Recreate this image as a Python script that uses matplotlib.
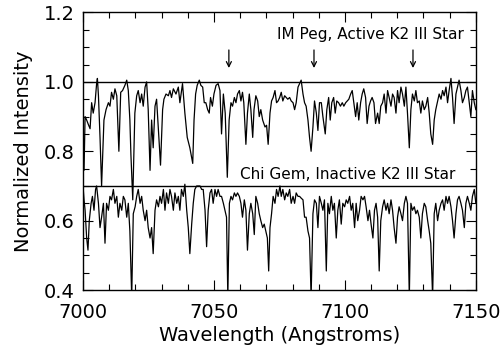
import matplotlib
matplotlib.use("Agg")
import matplotlib.pyplot as plt
from matplotlib.ticker import MultipleLocator

# IM Peg (active K2 III) spectrum: wavelength (Angstrom), normalized intensity
wl_impeg = [
    7000.0, 7000.4, 7000.8, 7001.4, 7001.9, 7002.7, 7003.3, 7003.9, 7004.6, 7005.2,
    7005.5, 7005.9, 7006.5, 7007.1, 7008.0, 7008.8, 7009.7, 7010.3, 7010.9, 7011.6,
    7012.2, 7012.9, 7013.7, 7014.4, 7015.1, 7016.0, 7016.7, 7017.3, 7017.9, 7018.3,
    7019.0, 7019.8, 7020.5, 7021.1, 7021.8, 7022.4, 7023.0, 7023.7, 7024.3, 7024.9,
    7025.6, 7026.2, 7026.8, 7027.5, 7028.1, 7028.8, 7029.6, 7030.4, 7030.9, 7031.7,
    7032.6, 7033.2, 7033.8, 7034.5, 7035.5, 7036.4, 7037.0, 7038.0, 7038.9, 7039.8,
    7040.8, 7041.9, 7042.4, 7043.0, 7043.6, 7044.4, 7045.0, 7045.7, 7046.3, 7046.9,
    7047.6, 7048.2, 7048.7, 7049.4, 7050.0, 7050.8, 7051.6, 7052.3, 7052.9, 7053.6,
    7054.3, 7055.1, 7055.8, 7056.5, 7057.1, 7057.8, 7058.4, 7059.0, 7059.7, 7060.3,
    7060.9, 7061.4, 7062.2, 7062.8, 7063.5, 7064.1, 7064.8, 7065.3, 7066.0, 7066.7,
    7067.3, 7067.9, 7068.6, 7069.5, 7070.1, 7070.7, 7071.4, 7072.0, 7072.6, 7073.3,
    7073.9, 7074.5, 7075.1, 7075.7, 7076.3, 7077.0, 7077.6, 7078.2, 7078.9, 7079.5,
    7080.2, 7080.8, 7081.4, 7082.1, 7082.7, 7083.3, 7084.0, 7084.6, 7085.2, 7085.9,
    7086.5, 7087.1, 7087.8, 7088.4, 7089.1, 7089.7, 7090.3, 7091.0, 7091.6, 7092.5,
    7093.1, 7093.8, 7094.4, 7095.0, 7095.7, 7096.3, 7096.9, 7097.6, 7098.3, 7099.0,
    7099.6, 7100.3, 7100.9, 7101.5, 7102.2, 7102.8, 7103.4, 7104.1, 7104.7, 7105.3,
    7106.0, 7106.6, 7107.2, 7107.9, 7108.5, 7109.2, 7109.8, 7110.4, 7111.1, 7111.7,
    7112.5, 7113.1, 7113.7, 7114.4, 7115.0, 7115.7, 7116.3, 7116.9, 7117.6, 7118.2,
    7118.8, 7119.5, 7120.1, 7120.7, 7121.4, 7122.0, 7122.7, 7123.3, 7123.9, 7124.6,
    7125.2, 7125.8, 7126.5, 7127.1, 7127.7, 7128.4, 7129.0, 7129.6, 7130.3, 7130.9,
    7131.6, 7132.2, 7132.8, 7133.5, 7134.1, 7134.7, 7135.4, 7136.0, 7136.7, 7137.3,
    7137.9, 7138.6, 7139.2, 7139.8, 7140.5, 7141.1, 7141.7, 7142.4, 7143.0, 7143.6,
    7144.3, 7144.9, 7145.6, 7146.2, 7146.8, 7147.5, 7148.1, 7148.7, 7149.4, 7150.0,
]
flux_impeg = [
    0.89, 0.745, 0.90, 0.89, 0.88, 0.865, 0.94, 0.91, 0.94, 0.995,
    1.01, 0.96, 0.84, 0.70, 0.89, 0.92, 0.94, 0.93, 0.97, 0.95,
    0.98, 0.96, 0.80, 0.97, 0.975, 0.99, 1.005, 0.975, 0.89, 0.79,
    0.66, 0.91, 0.96, 0.975, 0.94, 0.965, 0.93, 0.985, 1.00, 0.92,
    0.745, 0.89, 0.81, 0.93, 0.95, 0.86, 0.76, 0.92, 0.95, 0.965,
    0.96, 0.975, 0.955, 0.98, 0.965, 0.985, 0.94, 0.995, 0.91, 0.84,
    0.81, 0.765, 0.89, 0.965, 0.99, 1.005, 0.99, 0.985, 0.94, 0.94,
    0.92, 0.91, 0.955, 0.93, 0.965, 0.99, 0.995, 0.975, 0.85, 0.965,
    0.91, 0.725, 0.89, 0.94, 0.93, 0.955, 0.94, 0.965, 0.975, 0.945,
    0.97, 0.94, 0.82, 0.91, 0.965, 0.92, 0.84, 0.92, 0.96, 0.945,
    0.90, 0.92, 0.89, 0.87, 0.875, 0.82, 0.91, 0.945, 0.955, 0.975,
    0.94, 0.945, 0.955, 0.97, 0.945, 0.96, 0.955, 0.95, 0.955, 0.945,
    0.94, 0.92, 0.94, 0.985, 0.995, 1.005, 0.965, 0.94, 0.93, 0.89,
    0.84, 0.80, 0.87, 0.945, 0.91, 0.86, 0.94, 0.94, 0.90, 0.85,
    0.92, 0.955, 0.89, 0.94, 0.955, 0.91, 0.945, 0.94, 0.93, 0.94,
    0.93, 0.94, 0.945, 0.95, 0.965, 0.975, 0.94, 0.90, 0.94, 0.89,
    0.94, 0.965, 0.98, 0.955, 0.88, 0.93, 0.945, 0.955, 0.94, 0.88,
    0.91, 0.88, 0.93, 0.94, 0.965, 0.91, 0.975, 0.955, 0.93, 0.965,
    0.955, 0.91, 0.975, 0.94, 0.985, 0.965, 0.93, 0.985, 0.91, 0.81,
    0.92, 0.965, 0.945, 0.975, 0.94, 0.945, 0.91, 0.945, 0.92, 0.93,
    0.955, 0.91, 0.85, 0.82, 0.89, 0.92, 0.945, 0.965, 0.95, 0.975,
    0.96, 0.985, 0.94, 0.975, 1.01, 0.955, 0.88, 0.965, 0.985, 1.005,
    0.975, 0.94, 0.955, 0.975, 0.985, 0.94, 0.90, 0.975, 0.94, 0.92,
]

# Chi Gem (inactive K2 III) spectrum
wl_chigem = [
    7000.0, 7000.4, 7000.8, 7001.4, 7001.9, 7002.4, 7003.1, 7003.6, 7004.2, 7004.8,
    7005.2, 7005.9, 7006.5, 7007.1, 7007.8, 7008.4, 7009.0, 7009.7, 7010.3, 7010.9,
    7011.6, 7012.2, 7012.9, 7013.5, 7014.1, 7014.8, 7015.4, 7016.0, 7016.7, 7017.3,
    7017.9, 7018.6, 7019.2, 7019.9, 7020.5, 7021.1, 7021.8, 7022.4, 7023.0, 7023.7,
    7024.3, 7024.9, 7025.6, 7026.2, 7026.8, 7027.5, 7028.1, 7028.8, 7029.4, 7030.0,
    7030.7, 7031.3, 7031.9, 7032.6, 7033.2, 7033.8, 7034.5, 7035.1, 7035.8, 7036.4,
    7037.0, 7037.6, 7038.3, 7038.9, 7039.6, 7040.2, 7040.8, 7041.5, 7042.1, 7042.7,
    7043.4, 7044.0, 7044.7, 7045.3, 7045.9, 7046.6, 7047.2, 7047.8, 7048.5, 7049.1,
    7049.7, 7050.4, 7051.0, 7051.6, 7052.3, 7052.9, 7053.6, 7054.2, 7054.8, 7055.3,
    7055.9, 7056.5, 7057.1, 7057.8, 7058.4, 7059.0, 7059.7, 7060.3, 7060.9, 7061.6,
    7062.2, 7062.8, 7063.5, 7064.1, 7064.8, 7065.4, 7066.0, 7066.7, 7067.3, 7067.9,
    7068.6, 7069.2, 7069.8, 7070.4, 7070.9, 7071.4, 7072.0, 7072.6, 7073.3, 7073.9,
    7074.5, 7075.2, 7075.7, 7076.3, 7077.0, 7077.6, 7078.2, 7078.9, 7079.5, 7080.2,
    7080.8, 7081.4, 7082.1, 7082.7, 7083.3, 7084.0, 7084.6, 7085.2, 7085.9, 7086.5,
    7087.1, 7087.8, 7088.4, 7089.1, 7089.7, 7090.3, 7091.0, 7091.6, 7092.2, 7092.9,
    7093.5, 7094.1, 7094.8, 7095.4, 7096.0, 7096.7, 7097.3, 7097.9, 7098.6, 7099.2,
    7099.9, 7100.5, 7101.1, 7101.8, 7102.4, 7103.0, 7103.7, 7104.3, 7104.9, 7105.6,
    7106.2, 7106.9, 7107.5, 7108.1, 7108.8, 7109.4, 7110.0, 7110.7, 7111.3, 7111.9,
    7112.5, 7113.1, 7113.7, 7114.4, 7115.0, 7115.7, 7116.3, 7116.9, 7117.6, 7118.2,
    7118.8, 7119.5, 7120.1, 7120.7, 7121.4, 7122.0, 7122.7, 7123.3, 7123.9, 7124.6,
    7125.2, 7125.8, 7126.5, 7127.1, 7127.7, 7128.4, 7129.0, 7129.6, 7130.3, 7130.9,
    7131.6, 7132.2, 7132.8, 7133.5, 7134.1, 7134.7, 7135.4, 7136.0, 7136.7, 7137.3,
    7137.9, 7138.6, 7139.2, 7139.8, 7140.5, 7141.1, 7141.7, 7142.4, 7143.0, 7143.6,
    7144.3, 7144.9, 7145.6, 7146.2, 7146.8, 7147.5, 7148.1, 7148.7, 7149.4, 7150.0,
]
flux_chigem = [
    0.70, 0.66, 0.63, 0.55, 0.515, 0.60, 0.65, 0.67, 0.63, 0.69,
    0.70, 0.65, 0.58, 0.61, 0.65, 0.535, 0.65, 0.63, 0.67, 0.66,
    0.69, 0.65, 0.67, 0.61, 0.65, 0.63, 0.67, 0.66, 0.61, 0.65,
    0.57, 0.38, 0.62, 0.64, 0.67, 0.69, 0.65, 0.67, 0.63, 0.60,
    0.63, 0.58, 0.55, 0.58, 0.505, 0.63, 0.66, 0.64, 0.67, 0.65,
    0.69, 0.63, 0.68, 0.65, 0.69, 0.67, 0.63, 0.68, 0.65, 0.67,
    0.63, 0.69, 0.67, 0.705, 0.63, 0.58, 0.505, 0.59, 0.65, 0.69,
    0.70, 0.70, 0.70, 0.69, 0.69, 0.63, 0.525, 0.63, 0.68, 0.69,
    0.65, 0.69, 0.67, 0.69, 0.67, 0.67, 0.65, 0.63, 0.61, 0.38,
    0.65, 0.67, 0.66, 0.68, 0.67, 0.68, 0.67, 0.65, 0.61, 0.66,
    0.63, 0.515, 0.62, 0.65, 0.62, 0.56, 0.67, 0.65, 0.62, 0.60,
    0.58, 0.59, 0.57, 0.55, 0.455, 0.58, 0.62, 0.67, 0.65, 0.69,
    0.67, 0.70, 0.67, 0.69, 0.66, 0.68, 0.67, 0.69, 0.65, 0.67,
    0.65, 0.68, 0.67, 0.67, 0.665, 0.66, 0.61, 0.61, 0.57, 0.55,
    0.38, 0.62, 0.66, 0.65, 0.58, 0.67, 0.65, 0.63, 0.66, 0.455,
    0.65, 0.62, 0.67, 0.63, 0.65, 0.55, 0.63, 0.66, 0.59, 0.65,
    0.64, 0.66, 0.65, 0.67, 0.63, 0.65, 0.58, 0.65, 0.60, 0.63,
    0.67, 0.66, 0.67, 0.64, 0.60, 0.63, 0.59, 0.55, 0.63, 0.65,
    0.61, 0.455, 0.60, 0.64, 0.66, 0.63, 0.65, 0.62, 0.66, 0.63,
    0.58, 0.535, 0.61, 0.64, 0.62, 0.60, 0.65, 0.67, 0.65, 0.38,
    0.65, 0.63, 0.64, 0.62, 0.63, 0.61, 0.55, 0.62, 0.65, 0.64,
    0.60, 0.57, 0.535, 0.38, 0.62, 0.65, 0.60, 0.63, 0.65, 0.66,
    0.63, 0.67, 0.65, 0.67, 0.64, 0.60, 0.55, 0.62, 0.66, 0.67,
    0.65, 0.63, 0.58, 0.65, 0.67, 0.65, 0.63, 0.67, 0.69, 0.65,
]

continuum_levels = [1.0, 0.7]
arrow_wavelengths = [7055.7, 7088.2, 7126.0]
label_impeg = "IM Peg, Active K2 III Star"
label_chigem = "Chi Gem, Inactive K2 III Star"
xticks = [7000, 7050, 7100, 7150]
yticks = [0.4, 0.6, 0.8, 1.0, 1.2]

plt.rcParams['font.family'] = ['DejaVu Sans']
fig = plt.figure(figsize=(5.03, 3.52), dpi=100)
ax = fig.add_axes([0.165, 0.176, 0.781, 0.7885])

ax.plot(wl_impeg, flux_impeg, color='black', lw=0.9)
ax.plot(wl_chigem, flux_chigem, color='black', lw=0.9)
for lev in continuum_levels:
    ax.axhline(lev, color='black', lw=1.0)

for w in arrow_wavelengths:
    ax.annotate('', xy=(w, 1.040), xytext=(w, 1.092),
                arrowprops=dict(arrowstyle='->', color='black', lw=0.9,
                                mutation_scale=9, shrinkA=0, shrinkB=0))

ax.text(7145.4, 1.138, label_impeg, ha='right', va='center', fontsize=11)
ax.text(7142.0, 0.733, label_chigem, ha='right', va='center', fontsize=11)

ax.set_xlim(7000, 7150)
ax.set_ylim(0.4, 1.2)
ax.set_xticks(xticks)
ax.set_yticks(yticks)
ax.set_yticklabels([f"{v:.1f}" for v in yticks])
ax.xaxis.set_minor_locator(MultipleLocator(10))
ax.yaxis.set_minor_locator(MultipleLocator(0.05))
ax.tick_params(which='both', direction='in', top=True, right=True,
               labelsize=14, colors='black')
ax.tick_params(which='major', length=7, width=0.8)
ax.tick_params(axis='x', which='major', pad=9)
ax.tick_params(axis='y', which='major', pad=6)
ax.tick_params(which='minor', length=4, width=0.8)
for s in ax.spines.values():
    s.set_linewidth(1.0)

ax.set_xlabel("Wavelength (Angstroms)", fontsize=14, labelpad=3)
ax.set_ylabel("Normalized Intensity", fontsize=14, labelpad=8)

fig.savefig("out.png", dpi=100)
